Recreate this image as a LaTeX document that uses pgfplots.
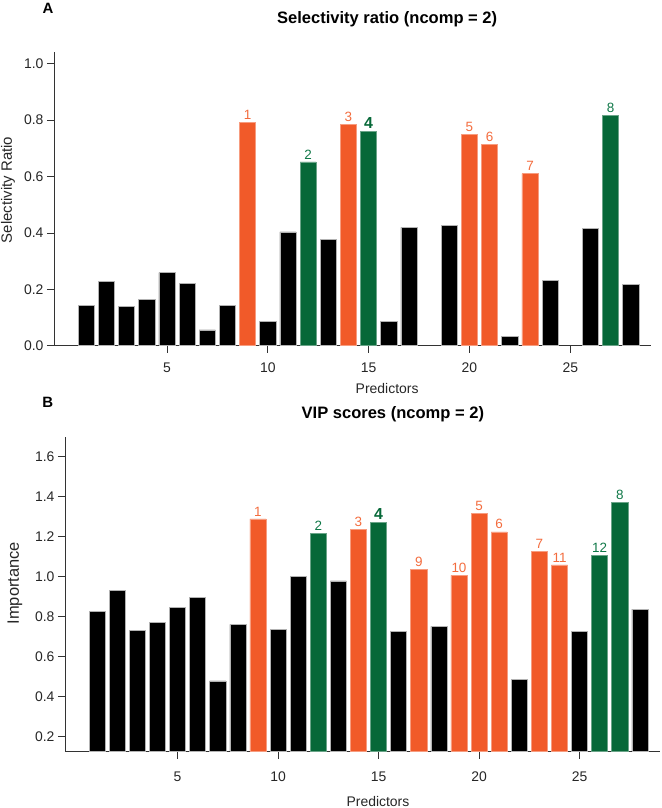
\documentclass[border=0pt]{standalone}
\usepackage{pgfplots}
\pgfplotsset{compat=1.18}
\usepackage{fontspec}
\setmainfont{Liberation Sans}
\definecolor{myorange}{RGB}{241,90,41}
\definecolor{mygreen}{RGB}{6,104,56}
\definecolor{laborange}{RGB}{243,108,62}
\definecolor{labgreen}{RGB}{16,120,72}
\pgfplotsset{
  mystyle/.style={
    scale only axis,
    clip mode=individual,
    axis x line*=bottom, axis y line*=left,
    axis line style={black!80, line width=0.8bp},
    tick align=outside,
    major tick length=7bp,
    tick style={black!80, line width=0.8bp},
    xtick={5,10,15,20,25},
    xmin=-0.6, xmax=29,
    enlargelimits=false,
    ticklabel style={font=\fontsize{14}{16}\selectfont, text=black!85},
    /pgf/number format/assume math mode=true,
    yticklabel style={/pgf/number format/fixed, /pgf/number format/fixed zerofill, /pgf/number format/precision=1, /pgf/number format/assume math mode=true},
    xticklabel style={/pgf/number format/assume math mode=true},
    xlabel style={font=\fontsize{14}{16}\selectfont, text=black!85, anchor=center},
    ylabel style={text=black!85, anchor=center},
    every axis title/.style={font=\bfseries\fontsize{16.6}{18}\selectfont, anchor=center},
  },
  blackbar/.style={ybar, bar width=0.8, fill=black, draw=black!30, line width=0.6bp},
  orangebar/.style={ybar, bar width=0.8, fill=myorange, draw=myorange!60!white, line width=0.6bp,
    point meta=explicit symbolic, nodes near coords,
    every node near coord/.style={font=\fontsize{13.5}{15}\selectfont, text=laborange, anchor=south, inner sep=2.5bp}},
  greenbar/.style={ybar, bar width=0.8, fill=mygreen, draw=mygreen!60!white, line width=0.6bp,
    point meta=explicit symbolic, nodes near coords,
    every node near coord/.style={font=\fontsize{13.5}{15}\selectfont, text=labgreen, anchor=south, inner sep=2.5bp}},
}
\newcommand{\four}{{\fontsize{16}{16}\selectfont\bfseries\color{mygreen}4}}
\begin{document}
\begin{tikzpicture}
\useasboundingbox (0,0) rectangle (662bp,808bp);
% Panel A
\begin{axis}[mystyle,
  at={(54bp,462.3bp)}, anchor=south west,
  width=597bp, height=294bp,
  ymin=0, ymax=1.043,
  ytick={0,0.2,0.4,0.6,0.8,1.0},
  xticklabel style={yshift=-7bp},
  xlabel={Predictors},
  xlabel style={at={(axis description cs:0.558,-0.144)}},
  ylabel={Selectivity Ratio},
  ylabel style={at={(axis description cs:-0.077,0.53)}, font=\fontsize{15}{17}\selectfont},
  title={Selectivity ratio (ncomp = 2)},
  title style={at={(axis description cs:0.558,1.11)}},
]
\addplot[blackbar] coordinates {(1,0.142)(2,0.229)(3,0.140)(4,0.163)(5,0.259)(6,0.222)(7,0.056)(8,0.144)(10,0.085)(11,0.404)(13,0.378)(16,0.085)(17,0.420)(19,0.427)(22,0.034)(24,0.232)(26,0.415)(28,0.218)};
\addplot[orangebar] coordinates {(9,0.792)[1] (14,0.785)[3] (20,0.750)[5] (21,0.713)[6] (23,0.610)[7]};
\addplot[greenbar] coordinates {(12,0.652)[2] (15,0.759)[\four] (27,0.817)[8]};
\node[font=\bfseries\fontsize{15}{17}\selectfont, anchor=center] at (rel axis cs:-0.01,1.149) {A};
\end{axis}
% Panel B
\begin{axis}[mystyle,
  at={(65bp,56.3bp)}, anchor=south west,
  width=595bp, height=315bp,
  ymin=0.125, ymax=1.7,
  ytick={0.2,0.4,0.6,0.8,1.0,1.2,1.4,1.6},
  xticklabel style={yshift=-10bp},
  xlabel={Predictors},
  xlabel style={at={(axis description cs:0.526,-0.157)}},
  ylabel={Importance},
  ylabel style={at={(axis description cs:-0.084,0.535)}, font=\fontsize{16.5}{18}\selectfont},
  title={VIP scores (ncomp = 2)},
  title style={at={(axis description cs:0.551,1.07)}},
]
\addplot[blackbar] coordinates {(1,0.825)(2,0.931)(3,0.730)(4,0.770)(5,0.848)(6,0.898)(7,0.479)(8,0.762)(10,0.736)(11,1.003)(13,0.979)(16,0.725)(18,0.752)(22,0.486)(25,0.725)(28,0.838)};
\addplot[orangebar] coordinates {(9,1.289)[1] (14,1.238)[3] (17,1.038)[9] (19,1.007)[10] (20,1.318)[5] (21,1.224)[6] (23,1.126)[7] (24,1.059)[11]};
\addplot[greenbar] coordinates {(12,1.216)[2] (15,1.273)[\four] (26,1.108)[12] (27,1.373)[8]};
\node[font=\bfseries\fontsize{15}{17}\selectfont, anchor=center] at (rel axis cs:-0.029,1.110) {B};
\end{axis}
\end{tikzpicture}
\end{document}
